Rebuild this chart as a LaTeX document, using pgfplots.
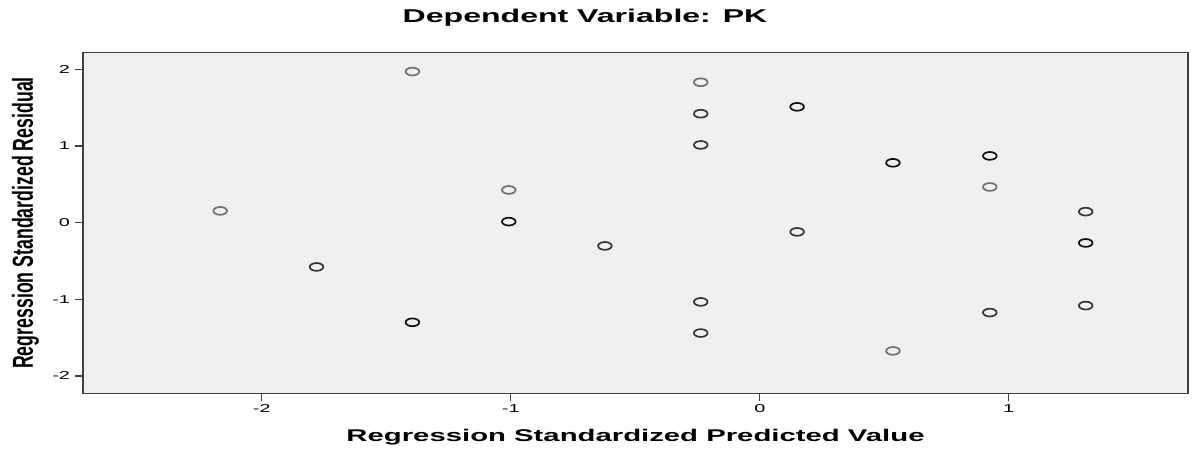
\documentclass[border=0pt]{standalone}
\usepackage{fontspec}
\setmainfont{Liberation Sans}
\newfontfamily\widefont[FakeStretch=1.73]{Liberation Sans}
\newfontfamily\narrowfont[FakeStretch=0.614]{Liberation Sans}
\usepackage{pgfplots}
\pgfplotsset{compat=1.18}
\definecolor{bgc}{HTML}{F0F0F0}
\definecolor{axc}{HTML}{404040}
\definecolor{ptlight}{HTML}{707070}
\definecolor{ptmed}{HTML}{363636}
\definecolor{ptdark}{HTML}{101010}
\begin{document}
\begin{tikzpicture}
\path[use as bounding box] (0,0) rectangle (1192bp,450bp);
\begin{axis}[
  at={(83bp,56.7bp)}, anchor=south west,
  scale only axis, width=1105bp, height=340.6bp,
  xmin=-2.718, xmax=1.72, ymin=-2.226, ymax=2.216,
  axis background/.style={fill=bgc},
  axis line style={draw=axc, line width=1.3bp},
  xtick={-2,-1,0,1}, xticklabels={-2,-1,0,1},
  ytick={-2,-1,0,1,2}, yticklabels={-2,-1,0,1,2},
  tick align=outside, xtick pos=bottom, ytick pos=left,
  major tick length=8bp,
  tick style={draw=axc, line width=1.3bp},
  xticklabel style={font=\widefont\fontsize{11.5}{12}\selectfont, anchor=north},
  yticklabel style={font=\widefont\fontsize{11.5}{12}\selectfont, anchor=east, xshift=-1.5bp},
  title={Dependent Variable: PK},
  title style={font=\widefont\fontsize{18.6}{20}\selectfont\bfseries, anchor=base, at={(axis description cs:0.4543,1.0719)}},
  xlabel={Regression Standardized Predicted Value},
  xlabel style={font=\widefont\fontsize{17}{19}\selectfont\bfseries, anchor=base, at={(axis description cs:0.5,-0.1409)}},
  ylabel={Regression Standardized Residual},
  ylabel style={font=\narrowfont\fontsize{29}{30}\selectfont\bfseries, anchor=base, at={(axis description cs:-0.04525,0.5)}},
  clip=false,
]
\addplot[only marks, mark=o, mark size=3.9bp, mark options={xscale=1.75, draw=ptlight, line width=1.7bp}] coordinates {
(-2.167,0.153) (-1.395,1.97) (-1.008,0.426) (-0.237,1.83) (0.535,-1.673) (0.924,0.465)
};
\addplot[only marks, mark=o, mark size=3.9bp, mark options={xscale=1.75, draw=ptmed, line width=1.7bp}] coordinates {
(-1.78,-0.578) (-0.237,1.42) (-0.237,1.013) (-0.622,-0.304) (-0.237,-1.034) (-0.237,-1.44) (0.15,-0.121) (1.309,0.143) (1.309,-1.082) (0.924,-1.173)
};
\addplot[only marks, mark=o, mark size=3.9bp, mark options={xscale=1.75, draw=ptdark, line width=1.7bp}] coordinates {
(-1.395,-1.30) (-1.008,0.013) (0.15,1.51) (0.535,0.78) (0.924,0.87) (1.309,-0.265)
};
\end{axis}
\end{tikzpicture}
\end{document}
